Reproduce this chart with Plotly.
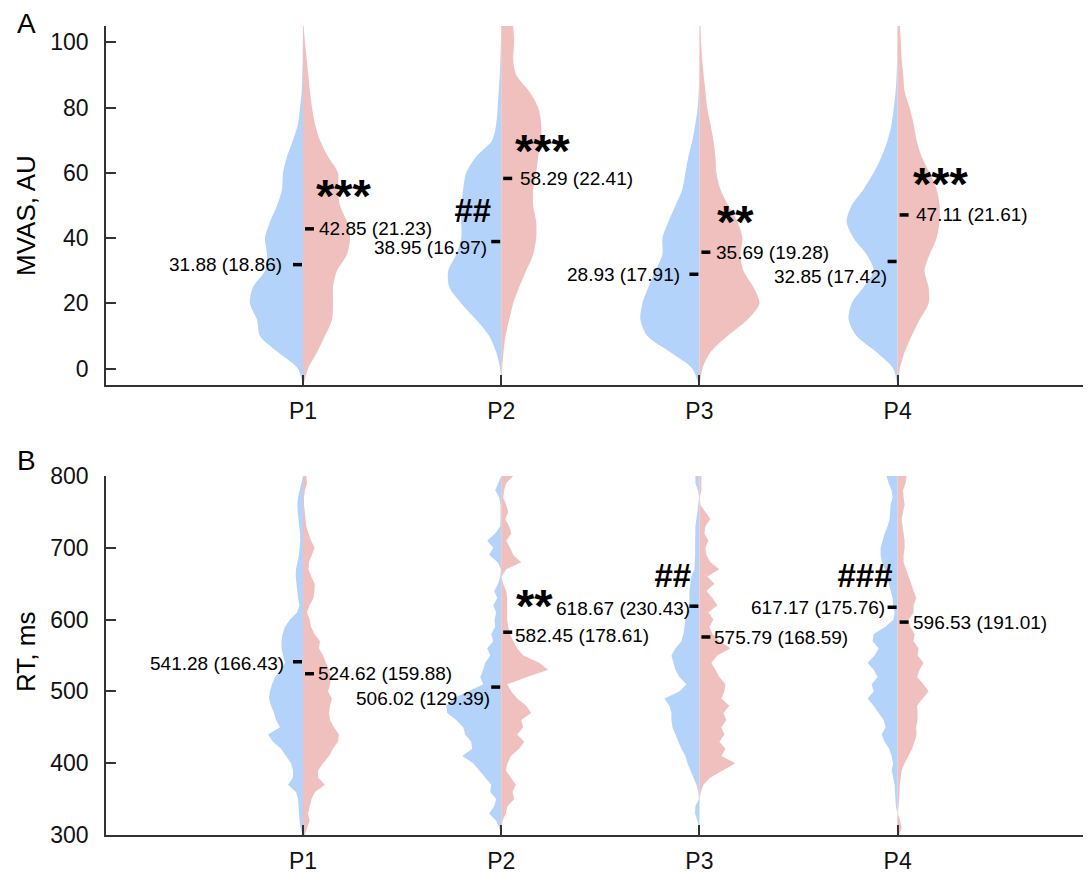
import plotly.graph_objects as go

# ---------------- data ----------------
GROUPS = ["P1", "P2", "P3", "P4"]
GROUP_POS = [1, 2, 3, 4]

# Panel A: MVAS half-violin half-widths (in pixels) at each level
MVAS_LEVELS = [-5, 0, 5, 10, 15, 20, 25, 30, 35, 40, 45, 50, 55, 60, 65, 70, 75, 80,
               85, 90, 95, 100, 105, 110]
MVAS_BLUE_P1 = [0.3, 5, 25, 43, 46, 53, 50, 38, 36, 38, 33, 26, 21, 20, 16, 10, 5, 3, 1.3, 0.7, 0.3, 0.2, 0, 0]
MVAS_BLUE_P2 = [0, 1, 5, 12, 25, 40, 52, 53, 45, 40, 40, 40, 38, 35, 25, 9, 5, 3.5, 2.5, 1.5, 0.8, 0.3, 0, 0]
MVAS_BLUE_P3 = [0, 7, 29, 52, 59, 57, 51, 44, 37, 37, 31, 24, 17, 14, 11, 7, 4, 1.7, 0.7, 0.3, 0, 0, 0, 0]
MVAS_BLUE_P4 = [0, 4.3, 21, 41, 49, 46, 34, 24, 31, 44, 51, 46, 34, 24, 16, 10, 6, 3.7, 2, 1, 0.5, 0.3, 0.2, 0]
MVAS_RED_P1 = [0.5, 5, 14, 22, 29, 30, 30, 34, 44, 47, 44, 37, 35, 35, 25, 17, 12, 9, 7, 5.3, 3.7, 2, 0.7, 0]
MVAS_RED_P2 = [0.3, 1, 2.3, 4.3, 8, 12, 18, 25, 32, 35, 35, 32, 32, 35, 37, 40, 40, 37, 28, 15, 12, 13, 12, 10]
MVAS_RED_P3 = [0.3, 3, 11, 28, 48, 60, 54, 44, 41, 43, 38, 29, 21, 17, 16, 14, 11, 7.7, 6, 4.3, 2.7, 1.7, 1, 0.5]
MVAS_RED_P4 = [0.3, 2.3, 7, 14, 22, 31, 31, 27, 32, 39, 42, 42, 39, 32, 24, 19, 16, 12, 7, 5.7, 4, 3.3, 2.3, 2]

MVAS_BLUE_MEAN = [31.88, 38.95, 28.93, 32.85]
MVAS_BLUE_SD = [18.86, 16.97, 17.91, 17.42]
MVAS_RED_MEAN = [42.85, 58.29, 35.69, 47.11]
MVAS_RED_SD = [21.23, 22.41, 19.28, 21.61]
MVAS_RED_SIG = ["***", "***", "**", "***"]
MVAS_BLUE_SIG = ["", "##", "", ""]

# Panel B: RT half-violin half-widths (pixels) at each level
RT_LEVELS = [300, 310, 320, 330, 340, 350, 360, 370, 380, 390,
             400, 410, 420, 430, 440, 450, 460, 470, 480, 490,
             500, 510, 520, 530, 540, 550, 560, 570, 580, 590,
             600, 610, 620, 630, 640, 650, 660, 670, 680, 690,
             700, 710, 720, 730, 740, 750, 760, 770, 780, 790, 800]
RT_BLUE_P1 = [0.5, 2.5, 3.5, 4, 4, 5, 7, 15, 10, 10,
              12, 17, 22, 30, 35, 23, 27, 29, 32, 34,
              33, 31, 28, 22, 18, 20, 21.5, 21.5, 20.5, 18,
              13, 6, 3.5, 5, 6, 7, 7.3, 7, 5.5, 4,
              3.3, 2.7, 3, 4, 4.7, 5.3, 5.7, 5, 3.3, 1.7, 0.7]
RT_BLUE_P2 = [0, 2, 5, 12, 7, 5, 11, 10, 16, 22,
              28, 39, 29, 30, 36, 38, 45, 54, 55, 48,
              33, 18, 21, 18, 16, 11, 14, 8, 10, 6,
              6.7, 5, 8, 4, 7, 3, 1, 0.3, 3.5, 12,
              8, 14, 6, 1, 0.7, 0.7, 0.7, 2, 6, 3, 0.5]
RT_BLUE_P3 = [0, 0.5, 2, 4.3, 4, 0.5, 1, 3, 6, 9,
              12, 14, 18, 21, 24, 27, 28, 28, 30, 35,
              20, 13, 20, 24, 26, 28, 24, 18, 16, 15,
              14, 12, 10, 10, 10, 9, 8, 5, 4.3, 4.3,
              4.3, 4.3, 4, 4, 3, 2, 1, 0.3, 1.5, 4, 4]
RT_BLUE_P4 = [0, 0.5, 0.8, 0.3, 1.7, 2.2, 2.7, 3, 4.3, 6,
              4.5, 6, 8.5, 13, 16, 12, 14, 19, 24, 30,
              24, 26, 20, 24, 30, 23, 19, 25, 24, 12,
              4, 3, 4.5, 5, 7, 9.3, 11, 12.7, 15.5, 17,
              17, 15, 13, 10, 8, 7.5, 7, 5, 6, 9, 11]
RT_RED_P1 = [1.7, 4, 6.7, 5, 7, 8.5, 12, 22, 15, 15,
             20, 26, 30, 35, 36, 31, 27, 26, 27, 29,
             25, 27, 28, 26, 23, 20, 16, 17, 11.5, 8,
             6.7, 4, 6.5, 10.5, 11.5, 11.7, 8.3, 5.5, 6, 9,
             11.7, 8, 5.5, 3.3, 2.5, 1.7, 1, 1, 2, 4, 3.3]
RT_RED_P2 = [0, 0.3, 1.3, 4.7, 6.3, 13, 11.3, 14.7, 9.7, 4.7,
             6.3, 9.7, 18, 23, 16, 22, 20, 30, 25, 16,
             10, 6, 26, 47, 38, 22, 16, 12, 9, 7,
             6, 6, 6, 6, 5, 2, 0.3, 5, 20, 12,
             9, 5, 10, 8, 4, 7, 5, 2, 3, 5, 12]
RT_RED_P3 = [0, 0, 0, 0, 0, 0.3, 1.5, 4, 11, 23,
             36, 22, 26, 20, 25, 22, 27, 24, 30, 22,
             25, 26, 20, 16, 12, 18, 31, 20, 13, 10,
             14, 9, 18, 13, 7, 15, 8, 20, 11, 7,
             6, 9, 5, 6, 11, 6, 1, 0.5, 2, 2, 2]
RT_RED_P4 = [1.5, 4, 2.5, 0.3, 1, 1.7, 2, 2.3, 3, 4,
             7, 11, 14.5, 17, 19, 18.5, 20, 20, 19.5, 25,
             31, 26, 19.5, 22, 26, 20, 21, 16, 17, 12.5,
             11, 16, 16, 18.5, 16, 14, 11, 9, 6, 6,
             7, 7, 6, 5, 4, 5.5, 7, 6, 5.5, 8, 9]

RT_BLUE_MEAN = [541.28, 506.02, 618.67, 617.17]
RT_BLUE_SD = [166.43, 129.39, 230.43, 175.76]
RT_RED_MEAN = [524.62, 582.45, 575.79, 596.53]
RT_RED_SD = [159.88, 178.61, 168.59, 191.01]
RT_RED_SIG = ["", "**", "", ""]
RT_BLUE_SIG = ["", "", "##", "###"]

# ---------------- layout constants ----------------
W, H = 1091, 872
OFF = 8                      # page body margin in the browser
PX_PER_X = 198.2
BLUE = "#b4d3fb"
RED = "#f0c0bf"
FONT = "Liberation Sans, Arial, Helvetica, sans-serif"
AXC = "#333333"

# label offsets (px) : blue right-edge offset, red left-edge offset, y shifts
MVAS_BLUE_LBL = [(-19, 0), (-12, -6), (-17, 0), (-9, -15)]
MVAS_RED_LBL = [(14, 0), (17, 0), (15, 0), (16, 0)]
RT_BLUE_LBL = [(-17, -2), (-9, -11), (-7, -2), (-11, 0)]
RT_RED_LBL = [(13, 0), (12, -3), (13, -1), (13, 0)]
MVAS_RED_SIG_POS = [(11, 54.5), (12, 68.5), (16, 46.6), (13, 58.3)]
MVAS_BLUE_SIG_POS = [None, (-8, 48.4), None, None]
RT_RED_SIG_POS = [None, (13, 626), None, None]
RT_BLUE_SIG_POS = [None, None, (-6, 662), (-3, 662)]

fig = go.Figure()


def half(xc, levels, widths, side, color, xa, ya, spline):
    s = -1 if side == "left" else 1
    xs = [xc + s * w / PX_PER_X for w in widths] + [xc for _ in levels[::-1]]
    ys = list(levels) + list(levels[::-1])
    fig.add_trace(go.Scatter(
        x=xs, y=ys, mode="lines", fill="toself", fillcolor=color,
        line=dict(width=0, color=color, shape="spline" if spline else "linear",
                  smoothing=0.8),
        hoverinfo="skip", showlegend=False, xaxis=xa, yaxis=ya))


def mean_dash(xc, m, side, xa, ya):
    if side == "left":
        x0, x1 = xc - 10 / PX_PER_X, xc - 1 / PX_PER_X
    else:
        x0, x1 = xc + 2 / PX_PER_X, xc + 11 / PX_PER_X
    fig.add_trace(go.Scatter(x=[x0, x1], y=[m, m], mode="lines",
                             line=dict(color="black", width=3.5),
                             hoverinfo="skip", showlegend=False, xaxis=xa, yaxis=ya))


annotations = []


def label(xc, m, sd, off, side, xa, ya):
    annotations.append(dict(
        x=xc, y=m, xref=xa, yref=ya, text=f"{m:.2f} ({sd:.2f})", showarrow=False,
        xanchor="right" if side == "left" else "left", yanchor="middle",
        xshift=off[0], yshift=off[1], font=dict(family=FONT, size=19, color="black")))


def sig(xc, txt, pos, side, xa, ya, italic):
    if not txt or pos is None:
        return
    if italic:
        t = f"<b><i>{txt}</i></b>"
        size = 33
        ysh = 0
    else:
        t = f"<b>{txt}</b>"
        size = 47
        ysh = -5
    annotations.append(dict(
        x=xc, y=pos[1], xref=xa, yref=ya, text=t, showarrow=False,
        xanchor="right" if side == "left" else "left", yanchor="middle",
        xshift=pos[0], yshift=ysh, font=dict(family=FONT, size=size, color="black")))


mv_blue = [MVAS_BLUE_P1, MVAS_BLUE_P2, MVAS_BLUE_P3, MVAS_BLUE_P4]
mv_red = [MVAS_RED_P1, MVAS_RED_P2, MVAS_RED_P3, MVAS_RED_P4]
rt_blue = [RT_BLUE_P1, RT_BLUE_P2, RT_BLUE_P3, RT_BLUE_P4]
rt_red = [RT_RED_P1, RT_RED_P2, RT_RED_P3, RT_RED_P4]

for i, xc in enumerate(GROUP_POS):
    half(xc, MVAS_LEVELS, mv_blue[i], "left", BLUE, "x", "y", True)
    half(xc, MVAS_LEVELS, mv_red[i], "right", RED, "x", "y", True)
    half(xc, RT_LEVELS, rt_blue[i], "left", BLUE, "x2", "y2", False)
    half(xc, RT_LEVELS, rt_red[i], "right", RED, "x2", "y2", False)

for i, xc in enumerate(GROUP_POS):
    mean_dash(xc, MVAS_BLUE_MEAN[i], "left", "x", "y")
    mean_dash(xc, MVAS_RED_MEAN[i], "right", "x", "y")
    mean_dash(xc, RT_BLUE_MEAN[i], "left", "x2", "y2")
    mean_dash(xc, RT_RED_MEAN[i], "right", "x2", "y2")
    label(xc, MVAS_BLUE_MEAN[i], MVAS_BLUE_SD[i], MVAS_BLUE_LBL[i], "left", "x", "y")
    label(xc, MVAS_RED_MEAN[i], MVAS_RED_SD[i], MVAS_RED_LBL[i], "right", "x", "y")
    label(xc, RT_BLUE_MEAN[i], RT_BLUE_SD[i], RT_BLUE_LBL[i], "left", "x2", "y2")
    label(xc, RT_RED_MEAN[i], RT_RED_SD[i], RT_RED_LBL[i], "right", "x2", "y2")
    sig(xc, MVAS_RED_SIG[i], MVAS_RED_SIG_POS[i], "right", "x", "y", False)
    sig(xc, MVAS_BLUE_SIG[i], MVAS_BLUE_SIG_POS[i], "left", "x", "y", True)
    sig(xc, RT_RED_SIG[i], RT_RED_SIG_POS[i], "right", "x2", "y2", False)
    sig(xc, RT_BLUE_SIG[i], RT_BLUE_SIG_POS[i], "left", "x2", "y2", True)


def px(x):
    return (x - OFF) / W


def py(y):
    return 1 - (y - OFF) / H


# panel letters and axis titles (screen pixel positions -> paper coords)
for txt, x, y in [("A", 26, 23), ("B", 26, 460)]:
    annotations.append(dict(x=px(x), y=py(y), xref="paper", yref="paper", text=txt,
                            showarrow=False, xanchor="center", yanchor="middle",
                            font=dict(family=FONT, size=28, color="black")))
for txt, x, y in [("MVAS, AU", 26, 216), ("RT, ms", 26, 652)]:
    annotations.append(dict(x=px(x), y=py(y), xref="paper", yref="paper", text=txt,
                            showarrow=False, xanchor="center", yanchor="middle", textangle=-90,
                            font=dict(family=FONT, size=26, color="black")))

x_range = [1 - (303 - 106) / PX_PER_X, 1 + (W + OFF - 303) / PX_PER_X]

common_x = dict(range=x_range, tickmode="array", tickvals=GROUP_POS, ticktext=GROUPS,
                showline=True, linecolor=AXC, linewidth=1.5, ticks="inside", ticklen=10,
                tickcolor=AXC, tickwidth=1.5, showgrid=False, zeroline=False,
                tickfont=dict(family=FONT, size=23, color="#111"), ticklabelstandoff=5,
                fixedrange=True, automargin=False)
common_y = dict(showline=True, linecolor=AXC, linewidth=1.5, ticks="inside", ticklen=10,
                tickcolor=AXC, tickwidth=1.5, showgrid=False, zeroline=False,
                tickfont=dict(family=FONT, size=23, color="#111"), ticklabelstandoff=11,
                fixedrange=True, automargin=False)

fig.update_layout(
    width=W, height=H, margin=dict(l=0, r=0, t=0, b=0, pad=0, autoexpand=False),
    paper_bgcolor="white", plot_bgcolor="white", showlegend=False,
    xaxis=dict(domain=[px(106), 1], anchor="y", **common_x),
    yaxis=dict(domain=[py(385), py(26)], anchor="x", range=[-5, 105],
               tickvals=[0, 20, 40, 60, 80, 100], **common_y),
    xaxis2=dict(domain=[px(106), 1], anchor="y2", **common_x),
    yaxis2=dict(domain=[py(835), py(476)], anchor="x2", range=[300, 800],
                tickvals=[300, 400, 500, 600, 700, 800], **common_y),
    annotations=annotations,
)

fig.write_html("out.html")
